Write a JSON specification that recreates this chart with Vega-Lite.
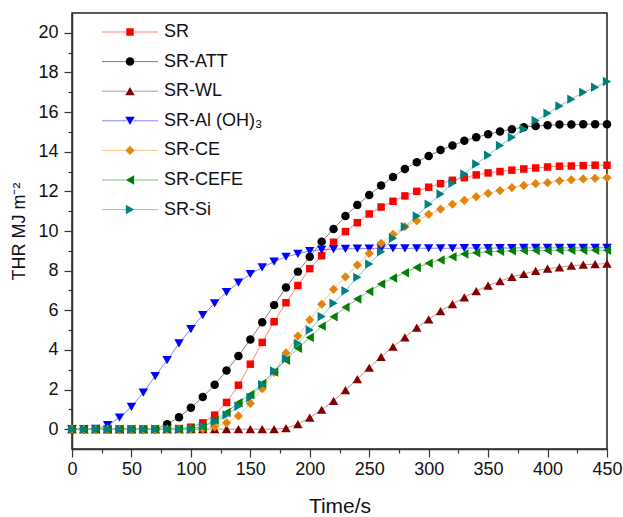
{
  "$schema": "https://vega.github.io/schema/vega-lite/v6.json",
  "width": 535,
  "height": 436,
  "autosize": "none",
  "padding": {"left": 72, "top": 13, "right": 16, "bottom": 68},
  "background": "white",
  "config": {
    "font": "Liberation Sans",
    "view": {"stroke": "#222222", "strokeWidth": 1.5},
    "style": {"guide-title": {"fontWeight": 400}},
    "axis": {
      "grid": false,
      "domainColor": "#333333",
      "domainWidth": 1.5,
      "tickColor": "#333333",
      "tickWidth": 1.2,
      "labelFont": "Liberation Sans",
      "labelFontSize": 18,
      "labelColor": "#111111",
      "titleFont": "Liberation Sans",
      "titleFontWeight": 400,
      "titleColor": "#111111"
    }
  },
  "data": {
    "values": [
      {"s":"SR","t":0,"v":0},{"s":"SR","t":10,"v":0},{"s":"SR","t":20,"v":0},{"s":"SR","t":30,"v":0},{"s":"SR","t":40,"v":0},{"s":"SR","t":50,"v":0},{"s":"SR","t":60,"v":0},{"s":"SR","t":70,"v":0},{"s":"SR","t":80,"v":0},
      {"s":"SR","t":90,"v":0.03},{"s":"SR","t":100,"v":0.1},{"s":"SR","t":110,"v":0.32},{"s":"SR","t":120,"v":0.71},{"s":"SR","t":130,"v":1.35},{"s":"SR","t":140,"v":2.22},{"s":"SR","t":150,"v":3.28},{"s":"SR","t":160,"v":4.38},{"s":"SR","t":170,"v":5.42},{"s":"SR","t":180,"v":6.38},
      {"s":"SR","t":190,"v":7.25},{"s":"SR","t":200,"v":8.1},{"s":"SR","t":210,"v":8.75},{"s":"SR","t":220,"v":9.43},{"s":"SR","t":230,"v":9.97},{"s":"SR","t":240,"v":10.42},{"s":"SR","t":250,"v":10.86},{"s":"SR","t":260,"v":11.21},{"s":"SR","t":270,"v":11.5},{"s":"SR","t":280,"v":11.77},
      {"s":"SR","t":290,"v":12.0},{"s":"SR","t":300,"v":12.21},{"s":"SR","t":310,"v":12.39},{"s":"SR","t":320,"v":12.56},{"s":"SR","t":330,"v":12.69},{"s":"SR","t":340,"v":12.83},{"s":"SR","t":350,"v":12.93},{"s":"SR","t":360,"v":13.0},{"s":"SR","t":370,"v":13.07},{"s":"SR","t":380,"v":13.13},
      {"s":"SR","t":390,"v":13.18},{"s":"SR","t":400,"v":13.23},{"s":"SR","t":410,"v":13.27},{"s":"SR","t":420,"v":13.28},{"s":"SR","t":430,"v":13.3},{"s":"SR","t":440,"v":13.32},{"s":"SR","t":450,"v":13.32},

      {"s":"SR-ATT","t":0,"v":0},{"s":"SR-ATT","t":10,"v":0},{"s":"SR-ATT","t":20,"v":0},{"s":"SR-ATT","t":30,"v":0},{"s":"SR-ATT","t":40,"v":0},{"s":"SR-ATT","t":50,"v":0},{"s":"SR-ATT","t":60,"v":0},{"s":"SR-ATT","t":70,"v":0},
      {"s":"SR-ATT","t":80,"v":0.25},{"s":"SR-ATT","t":90,"v":0.6},{"s":"SR-ATT","t":100,"v":1.08},{"s":"SR-ATT","t":110,"v":1.62},{"s":"SR-ATT","t":120,"v":2.24},{"s":"SR-ATT","t":130,"v":2.96},{"s":"SR-ATT","t":140,"v":3.69},{"s":"SR-ATT","t":150,"v":4.53},{"s":"SR-ATT","t":160,"v":5.39},{"s":"SR-ATT","t":170,"v":6.26},
      {"s":"SR-ATT","t":180,"v":7.15},{"s":"SR-ATT","t":190,"v":7.95},{"s":"SR-ATT","t":200,"v":8.7},{"s":"SR-ATT","t":210,"v":9.46},{"s":"SR-ATT","t":220,"v":10.1},{"s":"SR-ATT","t":230,"v":10.76},{"s":"SR-ATT","t":240,"v":11.31},{"s":"SR-ATT","t":250,"v":11.82},{"s":"SR-ATT","t":260,"v":12.29},{"s":"SR-ATT","t":270,"v":12.73},
      {"s":"SR-ATT","t":280,"v":13.13},{"s":"SR-ATT","t":290,"v":13.47},{"s":"SR-ATT","t":300,"v":13.79},{"s":"SR-ATT","t":310,"v":14.09},{"s":"SR-ATT","t":320,"v":14.31},{"s":"SR-ATT","t":330,"v":14.55},{"s":"SR-ATT","t":340,"v":14.73},{"s":"SR-ATT","t":350,"v":14.88},{"s":"SR-ATT","t":360,"v":15.02},{"s":"SR-ATT","t":370,"v":15.14},
      {"s":"SR-ATT","t":380,"v":15.24},{"s":"SR-ATT","t":390,"v":15.3},{"s":"SR-ATT","t":400,"v":15.34},{"s":"SR-ATT","t":410,"v":15.37},{"s":"SR-ATT","t":420,"v":15.37},{"s":"SR-ATT","t":430,"v":15.39},{"s":"SR-ATT","t":440,"v":15.39},{"s":"SR-ATT","t":450,"v":15.39},

      {"s":"SR-WL","t":0,"v":0},{"s":"SR-WL","t":10,"v":0},{"s":"SR-WL","t":20,"v":0},{"s":"SR-WL","t":30,"v":0},{"s":"SR-WL","t":40,"v":0},{"s":"SR-WL","t":50,"v":0},{"s":"SR-WL","t":60,"v":0},{"s":"SR-WL","t":70,"v":0},{"s":"SR-WL","t":80,"v":0},
      {"s":"SR-WL","t":90,"v":0},{"s":"SR-WL","t":100,"v":0},{"s":"SR-WL","t":110,"v":0},{"s":"SR-WL","t":120,"v":0},{"s":"SR-WL","t":130,"v":0},{"s":"SR-WL","t":140,"v":0},{"s":"SR-WL","t":150,"v":0},{"s":"SR-WL","t":160,"v":0},{"s":"SR-WL","t":170,"v":0},
      {"s":"SR-WL","t":180,"v":0.05},{"s":"SR-WL","t":190,"v":0.25},{"s":"SR-WL","t":200,"v":0.58},{"s":"SR-WL","t":210,"v":0.98},{"s":"SR-WL","t":220,"v":1.43},{"s":"SR-WL","t":230,"v":1.97},{"s":"SR-WL","t":240,"v":2.53},{"s":"SR-WL","t":250,"v":3.1},{"s":"SR-WL","t":260,"v":3.65},{"s":"SR-WL","t":270,"v":4.16},
      {"s":"SR-WL","t":280,"v":4.63},{"s":"SR-WL","t":290,"v":5.12},{"s":"SR-WL","t":300,"v":5.54},{"s":"SR-WL","t":310,"v":5.96},{"s":"SR-WL","t":320,"v":6.31},{"s":"SR-WL","t":330,"v":6.65},{"s":"SR-WL","t":340,"v":6.97},{"s":"SR-WL","t":350,"v":7.24},{"s":"SR-WL","t":360,"v":7.47},{"s":"SR-WL","t":370,"v":7.69},
      {"s":"SR-WL","t":380,"v":7.83},{"s":"SR-WL","t":390,"v":7.99},{"s":"SR-WL","t":400,"v":8.1},{"s":"SR-WL","t":410,"v":8.17},{"s":"SR-WL","t":420,"v":8.25},{"s":"SR-WL","t":430,"v":8.3},{"s":"SR-WL","t":440,"v":8.33},{"s":"SR-WL","t":450,"v":8.35},

      {"s":"SR-Al (OH)₃","t":0,"v":0},{"s":"SR-Al (OH)₃","t":10,"v":0},{"s":"SR-Al (OH)₃","t":20,"v":0.02},{"s":"SR-Al (OH)₃","t":30,"v":0.2},{"s":"SR-Al (OH)₃","t":40,"v":0.59},{"s":"SR-Al (OH)₃","t":50,"v":1.13},{"s":"SR-Al (OH)₃","t":60,"v":1.85},{"s":"SR-Al (OH)₃","t":70,"v":2.68},{"s":"SR-Al (OH)₃","t":80,"v":3.48},{"s":"SR-Al (OH)₃","t":90,"v":4.33},
      {"s":"SR-Al (OH)₃","t":100,"v":5.05},{"s":"SR-Al (OH)₃","t":110,"v":5.76},{"s":"SR-Al (OH)₃","t":120,"v":6.35},{"s":"SR-Al (OH)₃","t":130,"v":6.92},{"s":"SR-Al (OH)₃","t":140,"v":7.39},{"s":"SR-Al (OH)₃","t":150,"v":7.83},{"s":"SR-Al (OH)₃","t":160,"v":8.16},{"s":"SR-Al (OH)₃","t":170,"v":8.45},{"s":"SR-Al (OH)₃","t":180,"v":8.7},{"s":"SR-Al (OH)₃","t":190,"v":8.85},
      {"s":"SR-Al (OH)₃","t":200,"v":8.99},{"s":"SR-Al (OH)₃","t":210,"v":9.05},{"s":"SR-Al (OH)₃","t":220,"v":9.08},{"s":"SR-Al (OH)₃","t":230,"v":9.1},{"s":"SR-Al (OH)₃","t":240,"v":9.11},{"s":"SR-Al (OH)₃","t":250,"v":9.11},{"s":"SR-Al (OH)₃","t":260,"v":9.12},{"s":"SR-Al (OH)₃","t":270,"v":9.12},{"s":"SR-Al (OH)₃","t":280,"v":9.12},{"s":"SR-Al (OH)₃","t":290,"v":9.13},
      {"s":"SR-Al (OH)₃","t":300,"v":9.13},{"s":"SR-Al (OH)₃","t":310,"v":9.13},{"s":"SR-Al (OH)₃","t":320,"v":9.13},{"s":"SR-Al (OH)₃","t":330,"v":9.14},{"s":"SR-Al (OH)₃","t":340,"v":9.14},{"s":"SR-Al (OH)₃","t":350,"v":9.14},{"s":"SR-Al (OH)₃","t":360,"v":9.14},{"s":"SR-Al (OH)₃","t":370,"v":9.14},{"s":"SR-Al (OH)₃","t":380,"v":9.15},{"s":"SR-Al (OH)₃","t":390,"v":9.15},
      {"s":"SR-Al (OH)₃","t":400,"v":9.15},{"s":"SR-Al (OH)₃","t":410,"v":9.15},{"s":"SR-Al (OH)₃","t":420,"v":9.15},{"s":"SR-Al (OH)₃","t":430,"v":9.15},{"s":"SR-Al (OH)₃","t":440,"v":9.15},{"s":"SR-Al (OH)₃","t":450,"v":9.15},

      {"s":"SR-CE","t":0,"v":0},{"s":"SR-CE","t":10,"v":0},{"s":"SR-CE","t":20,"v":0},{"s":"SR-CE","t":30,"v":0},{"s":"SR-CE","t":40,"v":0},{"s":"SR-CE","t":50,"v":0},{"s":"SR-CE","t":60,"v":0},{"s":"SR-CE","t":70,"v":0},{"s":"SR-CE","t":80,"v":0},{"s":"SR-CE","t":90,"v":0},{"s":"SR-CE","t":100,"v":0},
      {"s":"SR-CE","t":110,"v":0.02},{"s":"SR-CE","t":120,"v":0.12},{"s":"SR-CE","t":130,"v":0.32},{"s":"SR-CE","t":140,"v":0.67},{"s":"SR-CE","t":150,"v":1.3},{"s":"SR-CE","t":160,"v":2.04},{"s":"SR-CE","t":170,"v":2.86},{"s":"SR-CE","t":180,"v":3.85},{"s":"SR-CE","t":190,"v":4.7},{"s":"SR-CE","t":200,"v":5.52},
      {"s":"SR-CE","t":210,"v":6.31},{"s":"SR-CE","t":220,"v":7.06},{"s":"SR-CE","t":230,"v":7.69},{"s":"SR-CE","t":240,"v":8.28},{"s":"SR-CE","t":250,"v":8.87},{"s":"SR-CE","t":260,"v":9.38},{"s":"SR-CE","t":270,"v":9.83},{"s":"SR-CE","t":280,"v":10.22},{"s":"SR-CE","t":290,"v":10.52},{"s":"SR-CE","t":300,"v":10.84},
      {"s":"SR-CE","t":310,"v":11.1},{"s":"SR-CE","t":320,"v":11.35},{"s":"SR-CE","t":330,"v":11.55},{"s":"SR-CE","t":340,"v":11.73},{"s":"SR-CE","t":350,"v":11.9},{"s":"SR-CE","t":360,"v":12.04},{"s":"SR-CE","t":370,"v":12.19},{"s":"SR-CE","t":380,"v":12.3},{"s":"SR-CE","t":390,"v":12.39},{"s":"SR-CE","t":400,"v":12.44},
      {"s":"SR-CE","t":410,"v":12.53},{"s":"SR-CE","t":420,"v":12.58},{"s":"SR-CE","t":430,"v":12.63},{"s":"SR-CE","t":440,"v":12.66},{"s":"SR-CE","t":450,"v":12.69},

      {"s":"SR-CEFE","t":0,"v":0},{"s":"SR-CEFE","t":10,"v":0},{"s":"SR-CEFE","t":20,"v":0},{"s":"SR-CEFE","t":30,"v":0},{"s":"SR-CEFE","t":40,"v":0},{"s":"SR-CEFE","t":50,"v":0},{"s":"SR-CEFE","t":60,"v":0},{"s":"SR-CEFE","t":70,"v":0},{"s":"SR-CEFE","t":80,"v":0},{"s":"SR-CEFE","t":90,"v":0},
      {"s":"SR-CEFE","t":100,"v":0.05},{"s":"SR-CEFE","t":110,"v":0.12},{"s":"SR-CEFE","t":120,"v":0.45},{"s":"SR-CEFE","t":130,"v":0.84},{"s":"SR-CEFE","t":140,"v":1.33},{"s":"SR-CEFE","t":150,"v":1.75},{"s":"SR-CEFE","t":160,"v":2.31},{"s":"SR-CEFE","t":170,"v":2.89},{"s":"SR-CEFE","t":180,"v":3.48},{"s":"SR-CEFE","t":190,"v":4.08},
      {"s":"SR-CEFE","t":200,"v":4.63},{"s":"SR-CEFE","t":210,"v":5.2},{"s":"SR-CEFE","t":220,"v":5.67},{"s":"SR-CEFE","t":230,"v":6.15},{"s":"SR-CEFE","t":240,"v":6.57},{"s":"SR-CEFE","t":250,"v":6.95},{"s":"SR-CEFE","t":260,"v":7.32},{"s":"SR-CEFE","t":270,"v":7.63},{"s":"SR-CEFE","t":280,"v":7.89},{"s":"SR-CEFE","t":290,"v":8.16},
      {"s":"SR-CEFE","t":300,"v":8.37},{"s":"SR-CEFE","t":310,"v":8.54},{"s":"SR-CEFE","t":320,"v":8.7},{"s":"SR-CEFE","t":330,"v":8.84},{"s":"SR-CEFE","t":340,"v":8.9},{"s":"SR-CEFE","t":350,"v":8.95},{"s":"SR-CEFE","t":360,"v":8.98},{"s":"SR-CEFE","t":370,"v":9.0},{"s":"SR-CEFE","t":380,"v":9.01},{"s":"SR-CEFE","t":390,"v":9.02},
      {"s":"SR-CEFE","t":400,"v":9.02},{"s":"SR-CEFE","t":410,"v":9.03},{"s":"SR-CEFE","t":420,"v":9.03},{"s":"SR-CEFE","t":430,"v":9.03},{"s":"SR-CEFE","t":440,"v":9.03},{"s":"SR-CEFE","t":450,"v":9.03},

      {"s":"SR-Si","t":0,"v":0},{"s":"SR-Si","t":10,"v":0},{"s":"SR-Si","t":20,"v":0},{"s":"SR-Si","t":30,"v":0},{"s":"SR-Si","t":40,"v":0},{"s":"SR-Si","t":50,"v":0},{"s":"SR-Si","t":60,"v":0},{"s":"SR-Si","t":70,"v":0},{"s":"SR-Si","t":80,"v":0},{"s":"SR-Si","t":90,"v":0},{"s":"SR-Si","t":100,"v":0},
      {"s":"SR-Si","t":110,"v":0.15},{"s":"SR-Si","t":120,"v":0.37},{"s":"SR-Si","t":130,"v":0.71},{"s":"SR-Si","t":140,"v":1.16},{"s":"SR-Si","t":150,"v":1.6},{"s":"SR-Si","t":160,"v":2.26},{"s":"SR-Si","t":170,"v":2.94},{"s":"SR-Si","t":180,"v":3.55},{"s":"SR-Si","t":190,"v":4.33},{"s":"SR-Si","t":200,"v":5.0},
      {"s":"SR-Si","t":210,"v":5.69},{"s":"SR-Si","t":220,"v":6.35},{"s":"SR-Si","t":230,"v":6.98},{"s":"SR-Si","t":240,"v":7.66},{"s":"SR-Si","t":250,"v":8.33},{"s":"SR-Si","t":260,"v":8.95},{"s":"SR-Si","t":270,"v":9.63},{"s":"SR-Si","t":280,"v":10.22},{"s":"SR-Si","t":290,"v":10.76},{"s":"SR-Si","t":300,"v":11.35},
      {"s":"SR-Si","t":310,"v":11.87},{"s":"SR-Si","t":320,"v":12.41},{"s":"SR-Si","t":330,"v":12.88},{"s":"SR-Si","t":340,"v":13.38},{"s":"SR-Si","t":350,"v":13.82},{"s":"SR-Si","t":360,"v":14.31},{"s":"SR-Si","t":370,"v":14.73},{"s":"SR-Si","t":380,"v":15.15},{"s":"SR-Si","t":390,"v":15.57},{"s":"SR-Si","t":400,"v":15.94},
      {"s":"SR-Si","t":410,"v":16.31},{"s":"SR-Si","t":420,"v":16.65},{"s":"SR-Si","t":430,"v":17.0},{"s":"SR-Si","t":440,"v":17.25},{"s":"SR-Si","t":450,"v":17.54}
    ]
  },
  "encoding": {
    "x": {
      "field": "t",
      "type": "quantitative",
      "scale": {"domain": [0, 450], "nice": false},
      "axis": {
        "title": "Time/s",
        "titleFontSize": 21,
        "titleFontWeight": 400,
        "titlePadding": 17,
        "values": [0,25,50,75,100,125,150,175,200,225,250,275,300,325,350,375,400,425,450],
        "labelExpr": "datum.value % 50 === 0 ? datum.label : ''",
        "tickSize": {"condition": {"test": "datum.value % 50 === 0", "value": 8}, "value": 4},
        "labelPadding": 3,
        "labelFlush": false,
        "labelOverlap": false
      }
    },
    "y": {
      "field": "v",
      "type": "quantitative",
      "scale": {"domain": [-1, 21], "nice": false, "zero": false},
      "axis": {
        "title": "THR MJ m⁻²",
        "titleFontSize": 18,
        "titleFontWeight": 400,
        "titlePadding": 9,
        "values": [0,1,2,3,4,5,6,7,8,9,10,11,12,13,14,15,16,17,18,19,20],
        "labelExpr": "datum.value % 2 === 0 ? datum.label : ''",
        "tickSize": {"condition": {"test": "datum.value % 2 === 0", "value": 8}, "value": 4},
        "labelPadding": 6,
        "labelOverlap": false
      }
    }
  },
  "layer": [
    {
      "mark": {"type": "line", "strokeWidth": 1},
      "encoding": {
        "detail": {"field": "s"},
        "stroke": {
          "field": "s",
          "type": "nominal",
          "scale": {
            "domain": ["SR", "SR-ATT", "SR-WL", "SR-Al (OH)₃", "SR-CE", "SR-CEFE", "SR-Si"],
            "range": ["#ff8080", "#808080", "#c98c8c", "#8080ff", "#f6c48c", "#80c080", "#80c8c8"]
          },
          "legend": {
            "title": null,
            "orient": "none",
            "legendX": 49,
            "legendY": 10,
            "padding": 0,
            "symbolType": "M-7,0H-0.9M0.9,0H7",
            "symbolSize": 64,
            "symbolStrokeWidth": 1,
            "labelFont": "Liberation Sans",
            "labelFontSize": 18,
            "labelColor": "#111111",
            "labelOffset": 25,
            "rowPadding": 11.6
          }
        }
      }
    },
    {
      "mark": {"type": "point", "filled": true, "opacity": 1, "strokeWidth": 0},
      "encoding": {
        "fill": {
          "field": "s",
          "type": "nominal",
          "sort": null,
          "scale": {"range": ["#ff0000", "#000000", "#800000", "#0000ff", "#e2850f", "#008000", "#008080"]},
          "legend": {
            "title": null,
            "orient": "none",
            "legendX": 49,
            "legendY": 10,
            "padding": 0,
            "symbolStrokeWidth": 0,
            "symbolOpacity": 1,
            "labelFont": "Liberation Sans",
            "labelFontSize": 18,
            "labelOpacity": 0,
            "labelOffset": 25,
            "rowPadding": 11.6
          }
        },
        "shape": {
          "field": "s",
          "type": "nominal",
          "sort": null,
          "scale": {"range": ["square", "circle", "triangle-up", "triangle-down", "diamond", "triangle-left", "triangle-right"]},
          "legend": {
            "title": null,
            "orient": "none",
            "legendX": 49,
            "legendY": 10,
            "padding": 0,
            "symbolStrokeWidth": 0,
            "symbolOpacity": 1,
            "labelFont": "Liberation Sans",
            "labelFontSize": 18,
            "labelOpacity": 0,
            "labelOffset": 25,
            "rowPadding": 11.6
          }
        },
        "size": {
          "field": "s",
          "type": "nominal",
          "sort": null,
          "scale": {"type": "ordinal", "range": [56, 72, 90, 90, 85, 90, 90]},
          "legend": {
            "title": null,
            "orient": "none",
            "legendX": 49,
            "legendY": 10,
            "padding": 0,
            "symbolStrokeWidth": 0,
            "symbolOpacity": 1,
            "labelFont": "Liberation Sans",
            "labelFontSize": 18,
            "labelOpacity": 0,
            "labelOffset": 25,
            "rowPadding": 11.6
          }
        }
      }
    }
  ]
}
